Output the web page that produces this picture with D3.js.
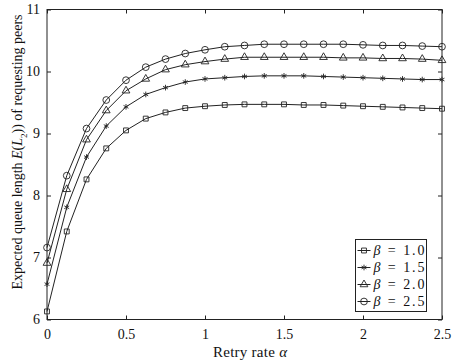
<!DOCTYPE html>
<html>
<head>
<meta charset="utf-8">
<script src="https://cdn.jsdelivr.net/npm/d3@7"></script>
<style>
  body { margin: 0; background: #fff; }
</style>
</head>
<body>
<svg id="chart"></svg>
<script>
// Retry rate alpha (x) and queue length for each beta
const alphas = [0, 0.125, 0.25, 0.375, 0.5, 0.625, 0.75, 0.875, 1.0, 1.125, 1.25,
                1.375, 1.5, 1.625, 1.75, 1.875, 2.0, 2.125, 2.25, 2.375, 2.5];
const beta10 = [6.13, 7.42, 8.26, 8.76, 9.05, 9.24, 9.34, 9.41, 9.44, 9.46, 9.47,
                9.47, 9.47, 9.46, 9.46, 9.45, 9.44, 9.43, 9.42, 9.41, 9.40];
const beta15 = [6.57, 7.81, 8.62, 9.12, 9.43, 9.63, 9.74, 9.83, 9.88, 9.90, 9.92,
                9.93, 9.93, 9.93, 9.92, 9.91, 9.90, 9.89, 9.88, 9.87, 9.87];
const beta20 = [6.91, 8.10, 8.90, 9.37, 9.69, 9.88, 10.03, 10.11, 10.16, 10.20, 10.23,
                10.23, 10.23, 10.23, 10.23, 10.22, 10.22, 10.21, 10.21, 10.20, 10.18];
const beta25 = [7.16, 8.32, 9.08, 9.54, 9.86, 10.07, 10.20, 10.29, 10.35, 10.40, 10.42,
                10.44, 10.44, 10.44, 10.44, 10.44, 10.43, 10.42, 10.42, 10.41, 10.40];
const betaLabels = ["1.0", "1.5", "2.0", "2.5"];
const xTicks = [0, 0.5, 1, 1.5, 2, 2.5];
const yTicks = [6, 7, 8, 9, 10, 11];

const width = 453, height = 363;
const margin = {top: 9.5, right: 11, bottom: 43.5, left: 47};
const w = width - margin.left - margin.right;
const h = height - margin.top - margin.bottom;
const serif = '"Liberation Serif", "Times New Roman", Tinos, "DejaVu Serif", serif';

const svg = d3.select("#chart").attr("width", width).attr("height", height)
  .attr("font-family", serif);
const g = svg.append("g").attr("transform", `translate(${margin.left},${margin.top})`);

const x = d3.scaleLinear().domain([0, 2.5]).range([0, w]);
const y = d3.scaleLinear().domain([6, 11]).range([h, 0]);

const ink = "#222";

// frame with inward ticks on all four sides
g.append("rect").attr("width", w).attr("height", h)
  .attr("fill", "none").attr("stroke", ink).attr("stroke-width", 1);

const xAxis = g.append("g").attr("transform", `translate(0,${h})`)
  .call(d3.axisBottom(x).tickValues(xTicks).tickSize(-4).tickPadding(10)
    .tickFormat(d3.format("")));
const xTop = g.append("g")
  .call(d3.axisTop(x).tickValues(xTicks).tickSize(-4).tickFormat(""));
const yAxis = g.append("g")
  .call(d3.axisLeft(y).tickValues(yTicks).tickSize(-4).tickPadding(7)
    .tickFormat(d3.format("d")));
const yRight = g.append("g").attr("transform", `translate(${w},0)`)
  .call(d3.axisRight(y).tickValues(yTicks).tickSize(-4).tickFormat(""));

[xAxis, xTop, yAxis, yRight].forEach(a => {
  a.attr("font-family", serif);
  a.select(".domain").remove();
  a.selectAll(".tick line").attr("stroke", ink);
  a.selectAll(".tick text").attr("font-size", 14).attr("fill", "#111");
});

// axis titles
svg.append("text")
  .attr("x", 250).attr("y", 357)
  .attr("text-anchor", "middle").attr("font-size", 15).attr("fill", "#111")
  .attr("textLength", 74).attr("lengthAdjust", "spacing")
  .html('Retry rate <tspan font-style="italic">\u03B1</tspan>');

svg.append("text")
  .attr("transform", "translate(22,152) rotate(-90)")
  .attr("text-anchor", "middle").attr("font-size", 14).attr("fill", "#111")
  .attr("textLength", 275).attr("lengthAdjust", "spacing")
  .html('Expected queue length <tspan font-style="italic">E</tspan>(<tspan font-style="italic">L</tspan><tspan baseline-shift="sub" font-size="9">2</tspan>)) of requesting peers');

// series
const allSeries = [beta10, beta15, beta20, beta25];
const symbols = [
  d3.symbol().type(d3.symbolSquare).size(24),
  d3.symbol().type(d3.symbolAsterisk).size(22),
  d3.symbol().type(d3.symbolTriangle).size(26),
  d3.symbol().type(d3.symbolCircle).size(36)
];

const line = d3.line().x((d, i) => x(alphas[i])).y(d => y(d));

allSeries.forEach((vals, k) => {
  g.append("path").datum(vals)
    .attr("d", line).attr("fill", "none")
    .attr("stroke", ink).attr("stroke-width", 1);
  g.selectAll(".m" + k).data(vals).enter().append("path")
    .attr("class", "m" + k)
    .attr("transform", (d, i) => `translate(${x(alphas[i])},${y(d)})`)
    .attr("d", symbols[k])
    .attr("fill", "none").attr("stroke", ink).attr("stroke-width", 0.9);
});

// legend
const lg = svg.append("g").attr("transform", "translate(355.5,239.5)");
lg.append("rect").attr("width", 71).attr("height", 72)
  .attr("fill", "#fff").attr("stroke", ink).attr("stroke-width", 1);
betaLabels.forEach((lab, k) => {
  const ry = 11 + k * 17;
  lg.append("line").attr("x1", 2).attr("x2", 15).attr("y1", ry).attr("y2", ry)
    .attr("stroke", ink).attr("stroke-width", 1);
  lg.append("path").attr("transform", `translate(8.5,${ry})`)
    .attr("d", symbols[k]).attr("fill", "none").attr("stroke", ink).attr("stroke-width", 0.9);
  lg.append("text").attr("x", 18).attr("y", ry).attr("dy", "0.35em")
    .attr("font-size", 14).attr("fill", "#111")
    .attr("textLength", 51).attr("lengthAdjust", "spacing")
    .html(`<tspan font-style="italic">\u03B2</tspan> = ${lab}`);
});
</script>
</body>
</html>
